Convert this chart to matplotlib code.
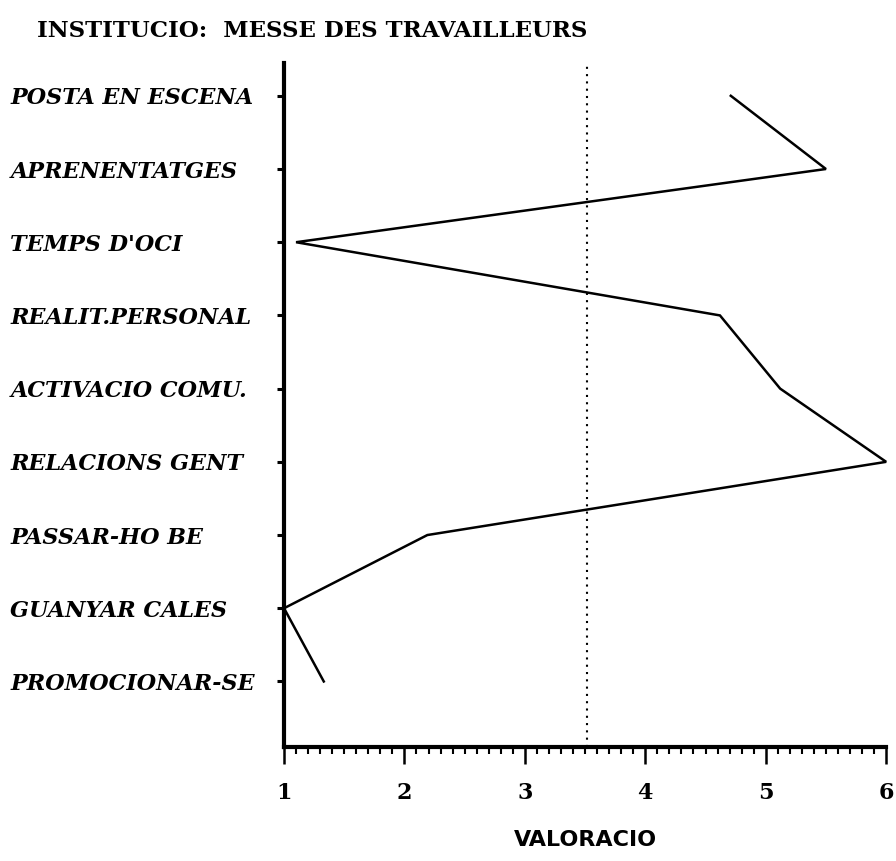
import numpy as np
import matplotlib
matplotlib.use("Agg")
import matplotlib.pyplot as plt
from matplotlib.ticker import MultipleLocator

# categories, top to bottom as drawn
categories = ["POSTA EN ESCENA", "APRENENTATGES", "TEMPS D'OCI", "REALIT.PERSONAL",
              "ACTIVACIO COMU.", "RELACIONS GENT", "PASSAR-HO BE", "GUANYAR CALES",
              "PROMOCIONAR-SE"]
valors = [4.71, 5.50, 1.10, 4.62, 5.12, 6.00, 2.19, 1.00, 1.33]
mitjana = 3.52
x_ticks = [1, 2, 3, 4, 5, 6]

serif = ["DejaVu Serif"]

fig = plt.figure(figsize=(8.96, 8.61), dpi=100)
ax = fig.add_axes([0.317, 0.132, 0.672, 0.795])

pos = np.arange(len(categories), 0, -1)  # 9 .. 1
ax.plot(valors, pos, color="black", lw=1.8, clip_on=False, solid_joinstyle="miter")
ax.axvline(mitjana, color="black", lw=1.5, linestyle=(0, (1, 2.5)))

ax.set_xlim(1, 6)
ax.set_ylim(0.1, 9.45)

for s in ["top", "right"]:
    ax.spines[s].set_visible(False)
for s in ["left", "bottom"]:
    ax.spines[s].set_linewidth(3)

ax.set_xticks(x_ticks)
ax.set_xticklabels([str(t) for t in x_ticks], family=serif, fontweight="bold", fontsize=16)
ax.xaxis.set_minor_locator(MultipleLocator(0.1))
ax.tick_params(axis="x", which="major", direction="out", length=12, width=1.8, pad=13)
ax.tick_params(axis="x", which="minor", direction="out", length=5, width=1.5)

ax.set_yticks(pos)
ax.set_yticklabels(categories, family=serif, fontweight="bold", style="italic",
                   fontsize=16, ha="left")
ax.tick_params(axis="y", direction="out", length=5, width=2.2, pad=192)

ax.set_xlabel("VALORACIO", family=["Liberation Sans Narrow", "DejaVu Sans"],
              fontweight="bold", fontsize=16, labelpad=19)

fig.text(37 / 896, 1 - 31 / 861, "INSTITUCIO:  MESSE DES TRAVAILLEURS",
         family=serif, fontweight="bold", fontsize=16.5, va="center", ha="left")

fig.savefig("out.png", dpi=100)
